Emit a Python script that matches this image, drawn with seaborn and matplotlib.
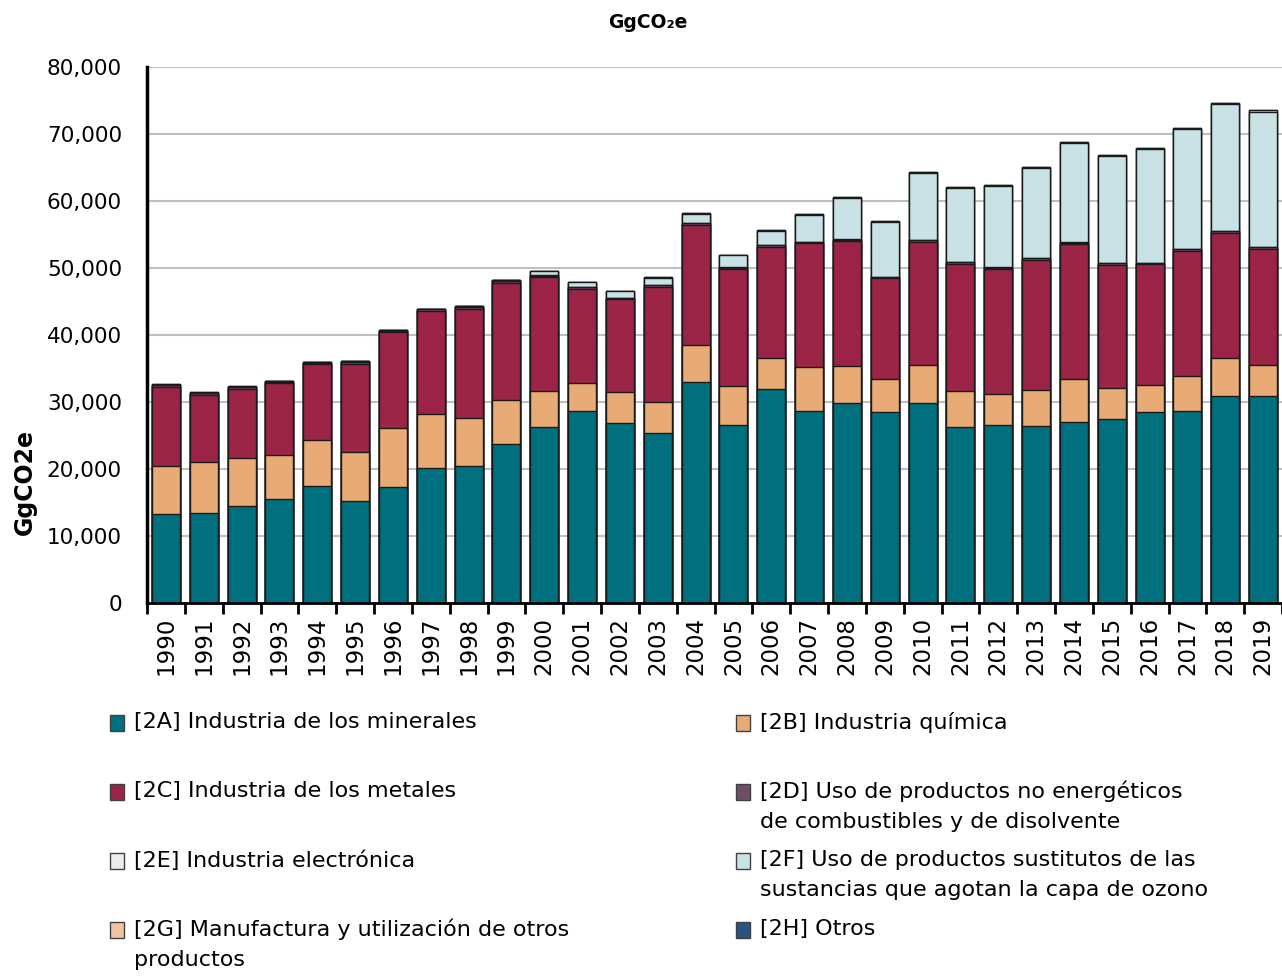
import numpy as np
import pandas as pd
import matplotlib
matplotlib.use("Agg")
import matplotlib.pyplot as plt
from matplotlib.patches import Rectangle
from matplotlib.ticker import FuncFormatter
import seaborn as sns

# ---- datos (GgCO2e) ----
anios = [str(a) for a in range(1990, 2020)]

cat_2a = [13240, 13480, 14480, 15480, 17460, 15180, 17360, 20100, 20490, 23730,
          26220, 28610, 26820, 25370, 32940, 26520, 31900, 28660, 29800, 28510,
          29800, 26220, 26520, 26420, 26970, 27420, 28510, 28710, 30850, 30940]
cat_2b = [7250, 7560, 7120, 6560, 6920, 7410, 8710, 8060, 7170, 6610,
          5370, 4270, 4620, 4670, 5520, 5920, 4620, 6520, 5570, 4880,
          5720, 5420, 4670, 5320, 6460, 4670, 3980, 5220, 5670, 4580]
cat_2c = [11750, 10000, 10340, 10750, 11240, 13030, 14330, 15420, 16170, 17460,
          17020, 13990, 13890, 17080, 17960, 17410, 16660, 18500, 18660, 15070,
          18410, 19010, 18660, 19450, 20110, 18410, 18060, 18660, 18750, 17360]
cat_2d = [250, 250, 300, 250, 250, 400, 270, 270, 400, 300,
          250, 250, 200, 300, 250, 200, 200, 200, 200, 200,
          200, 200, 200, 250, 250, 200, 200, 200, 200, 200]
cat_2e = [100, 100, 30, 80, 50, 50, 30, 30, 50, 50,
          40, 40, 30, 30, 30, 30, 30, 30, 30, 30,
          30, 30, 30, 30, 30, 30, 30, 30, 30, 30]
cat_2f = [0, 10, 20, 10, 0, 0, 0, 0, 0, 0,
          600, 700, 950, 1060, 1360, 1810, 2160, 4050, 6190, 8180,
          10020, 11010, 12160, 13450, 14790, 15990, 16980, 17880, 18950, 20170]
cat_2g = [50, 50, 50, 50, 50, 50, 50, 50, 50, 50,
          100, 100, 100, 100, 100, 100, 100, 100, 100, 100,
          150, 150, 150, 150, 150, 150, 150, 200, 250, 350]
cat_2h = [0] * 30

etiquetas = [
    "[2A] Industria de los minerales",
    "[2B] Industria química",
    "[2C] Industria de los metales",
    "[2D] Uso de productos no energéticos\nde combustibles y de disolvente",
    "[2E] Industria electrónica",
    "[2F] Uso de productos sustitutos de las\nsustancias que agotan la capa de ozono",
    "[2G] Manufactura y utilización de otros\nproductos",
    "[2H] Otros",
]
colores = ["#00707F", "#E8AB76", "#9B2447", "#6E4E66",
           "#EDEDED", "#C9E2E6", "#F0C4A2", "#2C5282"]

series = [cat_2a, cat_2b, cat_2c, cat_2d, cat_2e, cat_2f, cat_2g, cat_2h]

# ---- estilo ----
sns.set_theme(style="white")
plt.rcParams["font.family"] = ["DejaVu Sans"]
plt.rcParams["text.color"] = "black"
plt.rcParams["xtick.color"] = "black"
plt.rcParams["ytick.color"] = "black"

fig = plt.figure(figsize=(12.82, 9.77), dpi=100)
ax = fig.add_axes([147 / 1282, 1 - 603 / 977, 1 - 147 / 1282, 536 / 977])

# barras apiladas: se dibuja el acumulado de arriba hacia abajo
acumulado = np.cumsum(np.array(series), axis=0)
for i in range(len(series) - 1, -1, -1):
    df = pd.DataFrame({"anio": anios, "valor": acumulado[i]})
    sns.barplot(data=df, x="anio", y="valor", color=colores[i], saturation=1,
                width=0.74, edgecolor="#1a1a1a", linewidth=1, errorbar=None, ax=ax)

ax.set_ylim(0, 80000)
ax.set_xlim(-0.5, 29.42)
ax.set_yticks(np.arange(0, 80001, 10000))
ax.yaxis.set_major_formatter(FuncFormatter(lambda v, p: f"{int(v):,}"))
ax.yaxis.grid(True, color="#BFBFBF", linewidth=1.5)
ax.set_axisbelow(True)

ax.set_xlabel("")
ax.set_ylabel("")
ax.tick_params(axis="x", which="major", length=0, labelrotation=90,
               labelsize=16.5, pad=10, labelcolor="black")
ax.set_xticks(np.arange(-0.5, 30, 1), minor=True)
ax.tick_params(axis="x", which="minor", length=8, width=2, direction="out",
               color="black", bottom=True)
ax.tick_params(axis="y", which="major", length=0, left=False,
               labelsize=15.5, pad=18, labelcolor="black")

for s in ["top", "right"]:
    ax.spines[s].set_visible(False)
ax.spines["left"].set_color("black")
ax.spines["left"].set_linewidth(2.5)
ax.spines["bottom"].set_color("black")
ax.spines["bottom"].set_linewidth(2)

# títulos
fig.text(648 / 1282, 1 - 22 / 977, "GgCO₂e", ha="center", va="center",
         fontsize=13.5, fontweight="bold", color="black")
fig.text(25 / 1282, 1 - 482 / 977, "GgCO2e", ha="center", va="center",
         rotation=90, fontsize=17, fontweight="bold", color="black")

# leyenda en dos columnas, filas alineadas
col_x = [110, 736]
fila_y = [723, 792, 861, 930]
for k in range(len(etiquetas)):
    x0 = col_x[k % 2]
    y0 = fila_y[k // 2]
    fig.patches.append(Rectangle((x0 / 1282, 1 - (y0 + 8) / 977), 14 / 1282, 16 / 977,
                                 transform=fig.transFigure, facecolor=colores[k],
                                 edgecolor="#404040", linewidth=1))
    fig.text((x0 + 24) / 1282, 1 - (y0 - 11) / 977, etiquetas[k], ha="left",
             va="top", fontsize=16, linespacing=1.6, color="black")

fig.savefig("out.png", dpi=100)
